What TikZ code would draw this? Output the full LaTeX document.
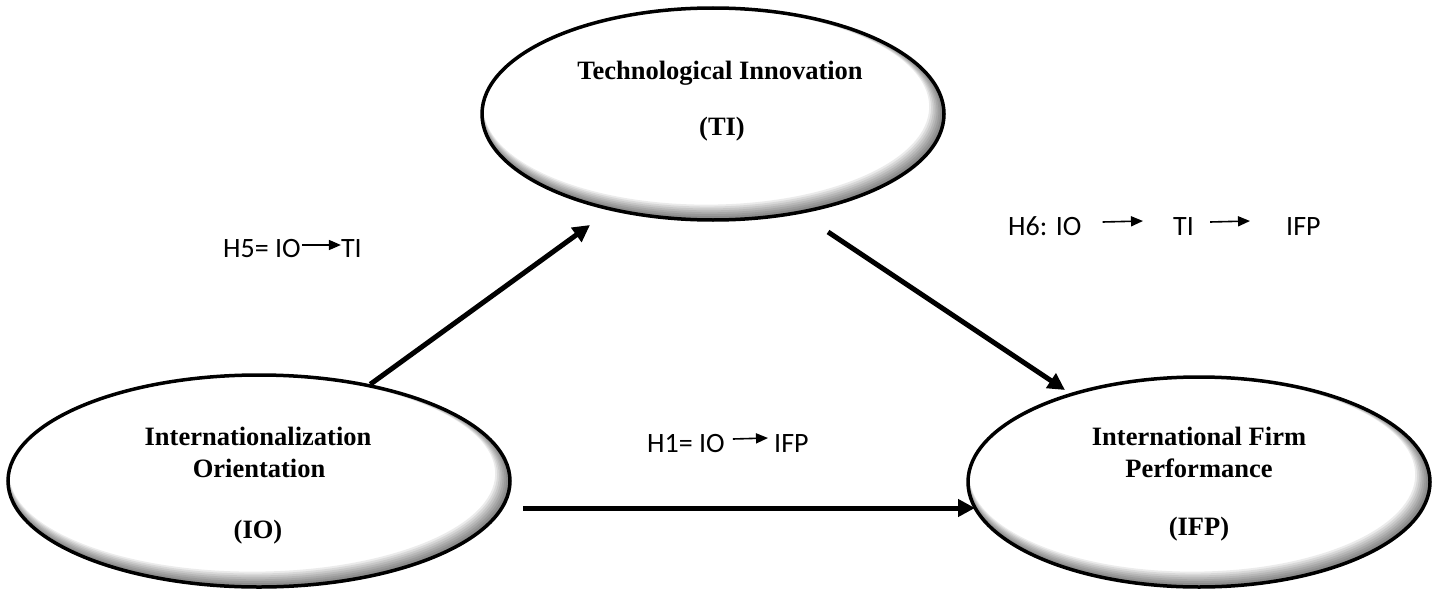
\documentclass[tikz,border=0pt]{standalone}
\usepackage{fontspec}
\setmainfont{Liberation Serif}
\newfontfamily\labfont{Carlito}
\usetikzlibrary{shapes.geometric,arrows.meta,calc}
\newcommand\innershade[4]{%
  \begin{scope}
    \clip (#1,#2) ellipse [x radius=#3pt, y radius=#4pt];
    \fill[white] (#1,#2) ellipse [x radius=#3pt, y radius=#4pt];
    \foreach \k in {1,...,8}{
      \fill[black, opacity=0.08, even odd rule]
        (#1-#3-30, #2-#4-30) rectangle (#1+#3+30, #2+#4+30)
        ({#1-0.85*\k}, {#2-0.92*\k}) ellipse [x radius={#3pt-1pt*\k}, y radius={#4pt-1pt*\k}];
    }
  \end{scope}}
\begin{document}
\begin{tikzpicture}[x=1pt, y=-1pt,
  ell/.style={ellipse, draw=black, line width=3.5pt, fill=none, inner sep=0pt},
  ttl/.style={anchor=base, inner sep=0pt, font=\fontsize{26.5}{30}\selectfont\bfseries},
  lab/.style={anchor=base west, inner sep=0pt, font=\fontsize{28}{32}\selectfont\labfont},
  bigarr/.style={line width=5pt, -{Triangle[length=17pt, width=17pt]}},
  smallarr/.style={line width=1.6pt, -{Triangle[length=12pt, width=10pt]}}]
\useasboundingbox (0,0) rectangle (1437,594);
\fill[white] (0,0) rectangle (1437,594);
% shaded ellipse interiors
\innershade{713}{114}{231}{106}
\innershade{259}{481}{251}{106}
\innershade{1199}{482}{231}{105}
% ellipses
\node[ell, minimum width=462pt, minimum height=212pt] (TI) at (713,114) {};
\node[ell, minimum width=502pt, minimum height=212pt] (IO) at (259,481) {};
\node[ell, minimum width=462pt, minimum height=210pt] (IFP) at (1199,482) {};
% ellipse texts
\node[ttl] (TIa) at (720,80) {Technological Innovation};
\node[ttl] (TIb) at (722,135) {(TI)};
\node[ttl] (IOa) at (258,445) {Internationalization};
\node[ttl] (IOb) at (259,477) {Orientation};
\node[ttl] (IOc) at (258,538) {(IO)};
\node[ttl] (IFPa) at (1199,445) {International Firm};
\node[ttl] (IFPb) at (1199,477) {Performance};
\node[ttl] (IFPc) at (1199,535) {(IFP)};
% main arrows
\coordinate (s1) at (IO.41);
\coordinate (e1) at (590,225);
\coordinate (s2) at (828,232);
\coordinate (e2) at (1065,390);
\coordinate (s3) at (523,508);
\coordinate (e3) at (975,508);
\draw[bigarr] (s1) -- (e1);
\draw[bigarr] (s2) -- (e2);
\draw[bigarr] (s3) -- (e3);
% hypothesis labels
\node[lab] (h5a) at (223,257) {H5= IO};
\node[lab, anchor=base east] (h5b) at (362,257) {TI};
\draw[smallarr] ($(h5a.base east)+(1,-12)$) -- ($(h5b.base west)+(0,-12)$);
\node[lab] (h1a) at (647,452) {H1= IO};
\node[lab] (h1b) at (774,452) {IFP};
\draw[smallarr] ($(h1a.base east)+(8,-13)$) -- ($(h1b.base west)+(-6,-14)$);
\node[lab] (h6a) at (1008,235) {H6: IO};
\node[lab] (h6b) at (1173,235) {TI};
\node[lab] (h6c) at (1286,235) {IFP};
\draw[smallarr] ($(h6a.base east)+(21,-13)$) -- ($(h6b.base west)+(-30,-14)$);
\draw[smallarr] ($(h6b.base east)+(16,-13)$) -- ($(h6c.base west)+(-36,-14)$);
\end{tikzpicture}
\end{document}
